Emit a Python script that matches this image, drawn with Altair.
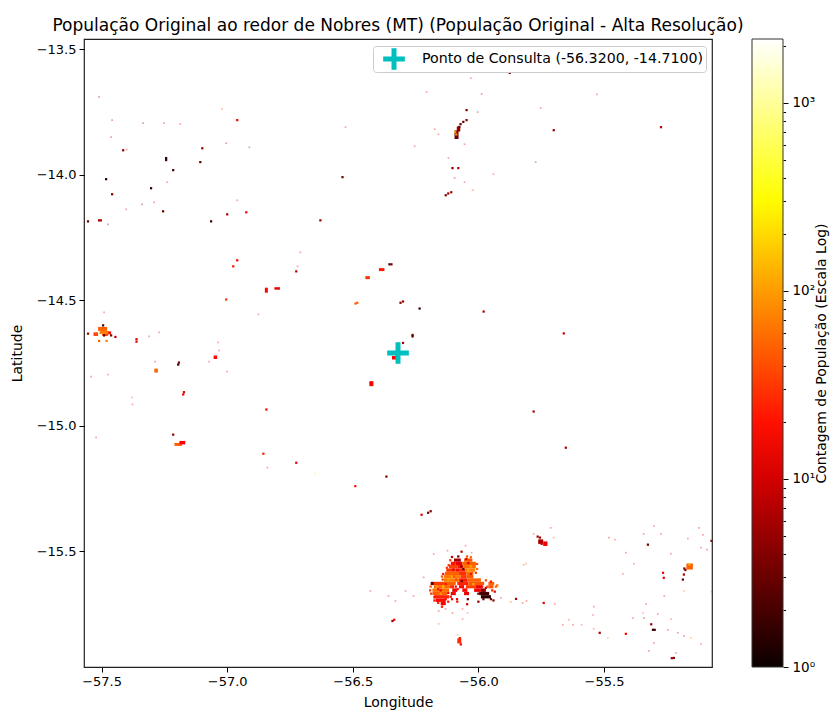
import altair as alt
import pandas as pd

TITLE = "População Original ao redor de Nobres (MT) (População Original - Alta Resolução)"
QUERY_LABEL = "Ponto de Consulta (-56.3200, -14.7100)"
QUERY_LON = [-56.32]
QUERY_LAT = [-14.71]
LON_DOMAIN = [-57.57, -55.07]
LAT_DOMAIN = [-15.96, -13.46]
LON_TICKS = [-57.5, -57.0, -56.5, -56.0, -55.5]
LAT_TICKS = [-13.5, -14.0, -14.5, -15.0, -15.5]
POP_DOMAIN = [1, 16.6, 311, 2188]
POP_COLORS = ["#0b0000", "#ff0000", "#ffff00", "#ffffff"]
POP_TICKS = [1, 2, 3, 4, 5, 6, 7, 8, 9, 10, 20, 30, 40, 50, 60, 70, 80, 90, 100,
             200, 300, 400, 500, 600, 700, 800, 900, 1000, 2000]

# raster runs: west lon, east lon, north lat, south lat, population
RUNS = [
    # Nobres main town
    (-56.097, -56.070, -15.528, -15.541, 6), (-56.057, -56.024, -15.528, -15.541, 45),
    (-56.110, -56.090, -15.541, -15.554, 20), (-56.090, -56.064, -15.541, -15.554, 12), (-56.064, -56.010, -15.541, -15.554, 50),
    (-56.117, -56.084, -15.554, -15.568, 35), (-56.084, -56.060, -15.554, -15.568, 22), (-56.060, -56.010, -15.554, -15.568, 60),
    (-56.128, -56.090, -15.568, -15.581, 30), (-56.090, -56.077, -15.568, -15.581, 18), (-56.077, -56.053, -15.568, -15.581, 28), (-56.053, -56.013, -15.568, -15.581, 70),
    (-56.133, -56.077, -15.581, -15.594, 50), (-56.077, -56.048, -15.581, -15.594, 28), (-56.048, -56.020, -15.581, -15.594, 55),
    (-56.137, -56.070, -15.594, -15.607, 65), (-56.070, -56.048, -15.594, -15.607, 32), (-56.048, -56.020, -15.594, -15.607, 45),
    (-56.137, -56.077, -15.607, -15.621, 70), (-56.077, -56.044, -15.607, -15.621, 22), (-56.044, -55.990, -15.607, -15.621, 50),
    (-56.190, -56.177, -15.621, -15.634, 3), (-56.177, -56.137, -15.621, -15.634, 32), (-56.137, -56.090, -15.621, -15.634, 50), (-56.084, -56.040, -15.621, -15.634, 25), (-56.040, -55.977, -15.621, -15.634, 45), (-55.960, -55.937, -15.621, -15.634, 50),
    (-56.177, -56.114, -15.634, -15.647, 55), (-56.114, -56.097, -15.634, -15.647, 30), (-56.077, -56.057, -15.634, -15.647, 18), (-56.050, -56.010, -15.634, -15.647, 35), (-56.010, -55.984, -15.634, -15.647, 14), (-55.960, -55.940, -15.634, -15.647, 45),
    (-56.183, -56.117, -15.647, -15.661, 60), (-56.104, -56.084, -15.647, -15.661, 14), (-56.064, -56.044, -15.647, -15.661, 18), (-56.017, -55.990, -15.647, -15.661, 14), (-55.990, -55.970, -15.647, -15.661, 5),
    (-56.183, -56.124, -15.661, -15.674, 50), (-56.110, -56.090, -15.661, -15.674, 12), (-56.057, -56.037, -15.661, -15.674, 12), (-55.997, -55.957, -15.661, -15.674, 2),
    (-56.177, -56.117, -15.674, -15.687, 25), (-55.990, -55.950, -15.674, -15.687, 1.5),
    (-56.170, -56.130, -15.687, -15.701, 18),
    (-56.150, -56.130, -15.701, -15.714, 14),
    # west town
    (-57.514, -57.478, -14.606, -14.622, 50), (-57.508, -57.472, -14.622, -14.634, 70), (-57.498, -57.474, -14.634, -14.642, 35),
    (-57.532, -57.514, -14.628, -14.642, 30), (-57.474, -57.462, -14.624, -14.636, 20),
    # other settlements
    (-57.290, -57.276, -14.772, -14.788, 50),
    (-57.210, -57.180, -15.068, -15.080, 50), (-57.190, -57.167, -15.060, -15.074, 16),
    (-57.054, -57.040, -14.720, -14.734, 18),
    (-56.850, -56.838, -14.450, -14.470, 18), (-56.812, -56.790, -14.448, -14.458, 14),
    (-56.434, -56.418, -14.822, -14.842, 18),
    (-56.396, -56.374, -14.372, -14.384, 22),
    (-56.450, -56.432, -14.404, -14.416, 30),
    (-56.344, -56.324, -14.722, -14.736, 15),
    (-56.095, -56.079, -13.824, -13.858, 3), (-56.086, -56.072, -13.808, -13.828, 5),
    (-55.762, -55.742, -15.452, -15.470, 6), (-55.742, -55.725, -15.460, -15.478, 14),
    (-55.172, -55.146, -15.548, -15.572, 50),
    (-56.084, -56.068, -15.846, -15.866, 28),
]

# isolated cells: lon, lat, population
SPOTS = [
    # speckle inside the main town
    (-56.112, -15.535, 30), (-56.068, -15.560, 4), (-56.040, -15.546, 12), (-56.100, -15.572, 12), (-56.030, -15.590, 20), (-56.100, -15.600, 30),
    (-56.066, -15.618, 3), (-56.088, -15.612, 35), (-56.130, -15.630, 20), (-56.160, -15.650, 22), (-56.140, -15.640, 150), (-56.060, -15.570, 3),
    (-55.985, -15.640, 20), (-56.020, -15.630, 120), (-56.120, -15.665, 16), (-56.150, -15.655, 16), (-56.048, -15.530, 10), (-56.175, -15.682, 20),
    (-56.000, -15.700, 4), (-56.042, -15.690, 3), (-56.084, -15.700, 20), (-55.980, -15.690, 3), (-56.130, -15.690, 20),
    (-56.085, -15.690, 12), (-56.045, -15.710, 10), (-55.850, -15.689, 6), (-56.067, -15.501, 7), (-55.964, -15.640, 40), (-56.074, -15.845, 20), (-56.070, -15.870, 14),
    (-56.090, -15.640, 14), (-56.082, -15.650, 22), (-56.190, -15.640, 40), (-56.192, -15.655, 30), (-56.188, -15.668, 30), (-56.175, -15.695, 20),
    (-56.160, -15.705, 25), (-56.145, -15.720, 20), (-56.120, -15.700, 20), (-56.105, -15.690, 14), (-56.110, -15.680, 12), (-56.100, -15.665, 20),
    (-56.105, -15.522, 8), (-56.080, -15.520, 3), (-56.045, -15.520, 40), (-56.030, -15.523, 50), (-56.005, -15.550, 40), (-56.005, -15.570, 60),
    (-56.010, -15.585, 30), (-56.140, -15.590, 20), (-56.145, -15.600, 40), (-56.142, -15.612, 30), (-56.118, -15.555, 25), (-56.125, -15.565, 30),
    (-55.970, -15.615, 40), (-55.950, -15.620, 20), (-55.930, -15.640, 50), (-55.925, -15.635, 60), (-55.945, -15.655, 25), (-55.935, -15.660, 12),
    (-55.950, -15.690, 3), (-55.940, -15.695, 4), (-55.970, -15.645, 10), (-55.980, -15.655, 4), (-56.000, -15.668, 3),
    (-56.030, -15.560, 110), (-56.040, -15.575, 120), (-56.105, -15.600, 120), (-56.120, -15.612, 110), (-56.150, -15.668, 100), (-56.165, -15.640, 100),
    # west town
    (-57.494, -14.600, 2), (-57.554, -14.633, 5), (-57.522, -14.633, 50), (-57.462, -14.640, 4), (-57.510, -14.662, 50), (-57.480, -14.662, 70),
    (-57.490, -14.640, 2), (-57.445, -14.646, 8),
    # north-west scatter
    (-57.414, -13.903, 4), (-57.243, -13.934, 1.5), (-57.243, -13.942, 2), (-57.215, -13.982, 2), (-57.482, -14.018, 1.5), (-57.303, -14.054, 1.5),
    (-57.458, -14.078, 4), (-57.255, -14.146, 3), (-57.554, -14.186, 3), (-57.510, -14.182, 6), (-57.503, -14.182, 8), (-57.064, -14.186, 2),
    (-57.000, -14.158, 6), (-56.924, -14.150, 16), (-57.099, -13.895, 5), (-57.107, -13.950, 3), (-56.960, -13.783, 14),
    # centre-west
    (-57.361, -14.655, 12), (-57.361, -14.665, 14), (-57.195, -14.756, 1.5), (-57.192, -14.748, 4), (-57.175, -14.875, 14), (-57.172, -14.866, 10), (-57.215, -15.035, 5),
    (-56.976, -14.365, 22), (-56.960, -14.341, 14), (-57.004, -14.497, 30), (-56.844, -14.935, 16), (-56.856, -15.111, 25), (-56.725, -15.147, 13), (-56.725, -14.385, 8),
    # centre
    (-56.354, -14.357, 2), (-56.346, -14.357, 3), (-56.489, -14.513, 40), (-56.482, -14.510, 50), (-56.310, -14.510, 4), (-56.300, -14.505, 6), (-56.234, -14.533, 1.5),
    (-56.262, -14.644, 2), (-56.262, -14.638, 3), (-56.300, -14.670, 6), (-56.428, -14.832, 14),
    # north town and around
    (-56.071, -13.799, 3), (-56.047, -13.783, 4), (-56.047, -13.743, 4), (-56.088, -13.840, 80), (-56.092, -13.830, 100), (-56.076, -13.810, 3), (-56.060, -13.790, 3),
    (-56.103, -13.974, 4), (-56.080, -13.974, 8), (-56.120, -14.075, 5), (-56.108, -14.070, 6), (-56.130, -14.082, 4),
    (-55.875, -13.595, 4), (-55.700, -13.823, 5), (-55.273, -13.811, 8), (-56.541, -14.010, 3), (-56.629, -14.182, 5),
    # south and east
    (-55.764, -15.441, 5), (-55.755, -15.445, 6), (-55.748, -15.470, 12), (-55.735, -15.474, 16),
    (-55.180, -15.568, 3), (-55.176, -15.574, 4), (-55.182, -15.592, 6), (-55.186, -15.612, 3), (-55.160, -15.552, 120),
    (-55.325, -15.473, 3), (-55.305, -15.812, 1.5), (-55.298, -15.812, 2), (-55.312, -15.790, 5), (-55.413, -15.828, 16), (-55.517, -15.824, 6),
    (-55.222, -15.924, 3), (-55.230, -15.925, 6), (-55.740, -15.705, 13), (-55.072, -15.458, 6), (-55.265, -15.585, 14), (-55.262, -15.605, 12),
    (-56.342, -15.777, 5), (-56.335, -15.772, 14), (-56.490, -15.240, 22), (-56.366, -15.202, 4), (-56.200, -15.346, 3), (-56.190, -15.340, 4),
    (-56.226, -15.354, 12), (-55.660, -14.632, 8), (-55.979, -14.545, 6), (-55.780, -14.943, 6), (-55.652, -15.087, 6),
]

# very faint cells
FAINT = [
    (-55.780, -15.430, 20), (-55.712, -15.406, 12), (-55.700, -15.445, 30), (-55.481, -15.445, 8), (-55.457, -15.453, 20), (-55.413, -15.505, 8),
    (-55.381, -15.549, 20), (-55.425, -15.589, 20), (-55.342, -15.430, 12), (-55.301, -15.398, 20), (-55.273, -15.430, 14), (-55.166, -15.449, 20),
    (-55.106, -15.434, 14), (-55.122, -15.406, 10), (-55.114, -15.485, 14), (-55.090, -15.493, 8), (-55.234, -15.509, 8), (-55.072, -15.660, 40),
    (-55.182, -15.657, 60), (-55.260, -15.677, 6), (-55.333, -15.709, 14), (-55.286, -15.749, 14), (-55.345, -15.745, 30), (-55.385, -15.765, 20),
    (-55.341, -15.765, 4), (-55.233, -15.769, 30), (-55.206, -15.824, 8), (-55.246, -15.812, 14), (-55.182, -15.836, 8), (-55.154, -15.844, 80),
    (-55.301, -15.864, 12), (-55.321, -15.896, 12), (-55.214, -15.904, 12), (-55.114, -15.868, 20), (-55.541, -15.808, 30), (-55.485, -15.844, 60),
    (-55.640, -15.772, 30), (-55.664, -15.792, 14), (-55.624, -15.792, 14), (-55.589, -15.792, 30), (-55.696, -15.709, 20), (-55.540, -15.720, 14),
    (-55.544, -15.753, 14), (-55.824, -15.705, 14), (-55.808, -15.697, 14), (-55.811, -15.549, 40), (-55.820, -15.553, 40),
    (-57.510, -13.690, 4), (-57.458, -13.783, 6), (-57.462, -13.851, 6), (-57.251, -13.795, 6), (-57.335, -13.795, 3), (-57.187, -13.799, 14),
    (-57.020, -13.739, 40), (-57.004, -13.875, 4), (-56.912, -13.891, 6), (-57.239, -14.030, 14), (-57.291, -14.110, 14), (-57.339, -14.118, 4),
    (-57.402, -14.138, 10), (-57.474, -14.198, 4), (-56.960, -14.102, 14), (-57.542, -14.804, 12), (-57.474, -14.796, 20), (-57.379, -14.887, 40),
    (-57.377, -14.915, 14), (-57.287, -14.744, 12), (-57.522, -15.046, 14), (-57.000, -14.784, 14), (-57.032, -14.700, 14), (-57.311, -14.644, 14),
    (-57.271, -14.628, 14), (-57.490, -14.548, 14), (-56.030, -13.616, 14), (-55.987, -13.679, 8), (-56.206, -13.671, 14), (-56.003, -13.751, 10),
    (-56.174, -13.819, 14), (-56.159, -13.839, 14), (-56.254, -13.887, 8), (-56.119, -13.934, 8), (-56.055, -13.879, 12), (-56.095, -14.014, 8),
    (-56.055, -14.030, 12), (-55.940, -13.998, 20), (-56.023, -14.062, 30), (-56.709, -14.309, 14), (-56.720, -14.365, 14), (-56.876, -14.556, 20),
    (-57.036, -14.668, 14), (-57.072, -14.744, 14), (-56.840, -15.166, 12), (-56.649, -15.190, 200), (-56.178, -15.510, 14), (-56.290, -15.657, 14),
    (-56.218, -15.603, 14), (-56.258, -15.677, 14), (-55.910, -15.685, 14), (-55.871, -15.701, 40), (-56.063, -15.729, 20), (-56.043, -15.745, 40),
    (-56.103, -15.745, 12), (-56.131, -15.729, 12), (-56.158, -15.737, 12), (-56.158, -15.788, 40), (-56.063, -15.769, 20), (-56.083, -15.832, 40),
    (-56.051, -15.477, 14), (-56.123, -15.497, 14), (-56.027, -15.505, 14), (-56.430, -15.657, 14), (-56.358, -15.677, 12), (-56.330, -15.697, 12),
    (-56.529, -13.811, 14), (-55.772, -13.950, 5), (-55.752, -13.735, 12), (-55.528, -13.680, 14), (-56.700, -13.460, 12), (-57.400, -13.900, 8),
]

runs = pd.DataFrame(RUNS, columns=["w", "e", "n", "s", "pop"])
spots = pd.DataFrame(SPOTS, columns=["lon", "lat", "pop"])
faint = pd.DataFrame(FAINT, columns=["lon", "lat", "pop"])
query = pd.DataFrame({"lon": QUERY_LON, "lat": QUERY_LAT, "label": [QUERY_LABEL]})
bar = pd.DataFrame({"v": POP_DOMAIN})

FONT = "DejaVu Sans"
x_scale = alt.Scale(domain=LON_DOMAIN, nice=False, zero=False)
y_scale = alt.Scale(domain=LAT_DOMAIN, nice=False, zero=False)
pop_scale = alt.Scale(type="log", domain=POP_DOMAIN, range=POP_COLORS, interpolate="rgb")

x_axis = alt.Axis(title="Longitude", values=LON_TICKS, format=".1f", grid=False, domain=False,
                  tickColor="black", tickSize=5, tickWidth=1, labelFontSize=13, titleFontSize=14,
                  titleFontWeight="normal", labelColor="black", titleColor="black", labelPadding=3, titlePadding=7, labelFlush=False)
y_axis = alt.Axis(title="Latitude", values=LAT_TICKS, format=".1f", grid=False, domain=False,
                  tickColor="black", tickSize=5, tickWidth=1, labelFontSize=13, titleFontSize=14,
                  titleFontWeight="normal", labelColor="black", titleColor="black", labelPadding=3, titlePadding=12)

X = alt.X("lon:Q", scale=x_scale, axis=x_axis)
Y = alt.Y("lat:Q", scale=y_scale, axis=y_axis)

runs_layer = alt.Chart(runs).mark_rect(clip=True).encode(
    x=alt.X("w:Q", scale=x_scale, axis=x_axis),
    x2="e:Q",
    y=alt.Y("n:Q", scale=y_scale, axis=y_axis),
    y2="s:Q",
    color=alt.Color("pop:Q", scale=pop_scale, legend=alt.Legend(
        type="gradient", orient="none", legendX=668, legendY=0, title=None,
        gradientLength=628, gradientThickness=31, gradientStrokeColor="#333",
        gradientStrokeWidth=1, labelOpacity=0, labelFontSize=1)),
)
spots_layer = alt.Chart(spots).mark_square(size=5, opacity=1, clip=True).encode(
    x=X, y=Y, color=alt.Color("pop:Q", scale=pop_scale, legend=None))
faint_layer = alt.Chart(faint).mark_square(size=3, opacity=0.35, clip=True).encode(
    x=X, y=Y, color=alt.Color("pop:Q", scale=pop_scale, legend=None))

CROSS = "M-0.23,-1H0.23V-0.23H1V0.23H0.23V1H-0.23V0.23H-1V-0.23H-0.23Z"
query_layer = alt.Chart(query).mark_point(filled=True, size=470, fill="#00bfbf", opacity=1, strokeWidth=0).encode(
    x=X, y=Y,
    shape=alt.Shape("label:N", scale=alt.Scale(domain=[QUERY_LABEL], range=[CROSS]), legend=alt.Legend(
        title=None, orient="top-right", offset=6.5, fillColor="rgba(255,255,255,0.8)",
        strokeColor="#cccccc", cornerRadius=3, padding=2, symbolSize=470, symbolFillColor="#00bfbf",
        symbolStrokeWidth=0, symbolOpacity=1, symbolOffset=8, labelFontSize=14.2, labelColor="black",
        labelOffset=17, labelLimit=400)),
)

major = "datum.value==1||datum.value==10||datum.value==100||datum.value==1000"
bar_layer = alt.Chart(bar).mark_point(opacity=0).encode(
    y=alt.Y("v:Q", scale=alt.Scale(type="log", domain=[1, 2188], nice=False), axis=alt.Axis(
        orient="right", offset=71, title="Contagem de População (Escala Log)", values=POP_TICKS,
        labelExpr="datum.value==1?'10⁰':datum.value==10?'10¹':datum.value==100?'10²':datum.value==1000?'10³':''",
        grid=False, domain=False, tickColor="black", tickWidth=1,
        tickSize={"condition": {"test": major, "value": 5}, "value": 2.6},
        labelFontSize=13.5, titleFontSize=14, titleFontWeight="normal", labelColor="black", titleColor="black",
        titleAngle=270, titleBaseline="bottom", labelPadding=4, titlePadding=14)),
)

chart = alt.layer(
    alt.layer(runs_layer, spots_layer, faint_layer, query_layer),
    bar_layer,
).resolve_scale(y="independent").properties(
    width=628, height=628,
    title=alt.TitleParams(TITLE, fontSize=17, fontWeight="normal", color="black", anchor="middle", offset=1),
    padding={"left": 76, "top": 31, "right": 120, "bottom": 44},
    autosize=alt.AutoSizeParams(type="none"),
).configure(font=FONT).configure_view(stroke="#222222", strokeWidth=1.2, fill="white")

chart.save("out.html", embed_options={"renderer": "svg", "actions": False})
